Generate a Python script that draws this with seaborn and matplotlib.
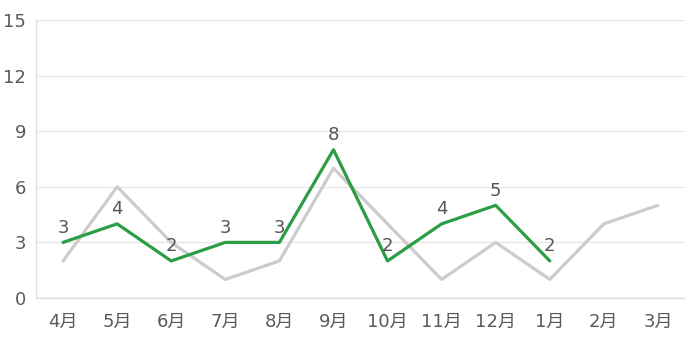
import matplotlib
matplotlib.use("Agg")
import matplotlib.pyplot as plt
import seaborn as sns
import pandas as pd

months = ["4月", "5月", "6月", "7月", "8月", "9月", "10月", "11月", "12月", "1月", "2月", "3月"]
prev_values = [2, 6, 3, 1, 2, 7, 4, 1, 3, 1, 4, 5]
curr_values = [3, 4, 2, 3, 3, 8, 2, 4, 5, 2]
y_ticks = [0, 3, 6, 9, 12, 15]

sns.set_theme(style="white")
plt.rcParams["font.family"] = ["DejaVu Sans", "Noto Sans CJK JP"]

fig = plt.figure(figsize=(6.85, 3.52), dpi=100)
ax = fig.add_axes([36/685, 54/352, 1 - 36/685, (298-20)/352])

x_prev = list(range(len(prev_values)))
x_curr = list(range(len(curr_values)))
df_prev = pd.DataFrame({"x": x_prev, "y": prev_values})
df_curr = pd.DataFrame({"x": x_curr, "y": curr_values})

sns.lineplot(data=df_prev, x="x", y="y", ax=ax, color="#cccccc", linewidth=2.3)
sns.lineplot(data=df_curr, x="x", y="y", ax=ax, color="#2a9d45", linewidth=2.3)

for xi, yi in zip(x_curr, curr_values):
    ax.text(xi, yi + 0.3, str(yi), ha="center", va="bottom", fontsize=13, color="#555555")

ax.set_xlim(-0.5, len(months) - 0.5)
ax.set_ylim(0, 15)
ax.set_yticks(y_ticks)
ax.set_xticks(range(len(months)))
ax.set_xticklabels(months)
ax.set_xlabel("")
ax.set_ylabel("")
ax.grid(axis="y", color="#e6e6e6", linewidth=1)
ax.set_axisbelow(True)
ax.tick_params(axis="both", length=0, labelsize=13, labelcolor="#595959")
ax.tick_params(axis="x", pad=11)
ax.tick_params(axis="y", pad=7)
for s in ["top", "right"]:
    ax.spines[s].set_visible(False)
for s in ["left", "bottom"]:
    ax.spines[s].set_color("#e0e0e0")
    ax.spines[s].set_linewidth(1)

fig.savefig("out.png", dpi=100)
